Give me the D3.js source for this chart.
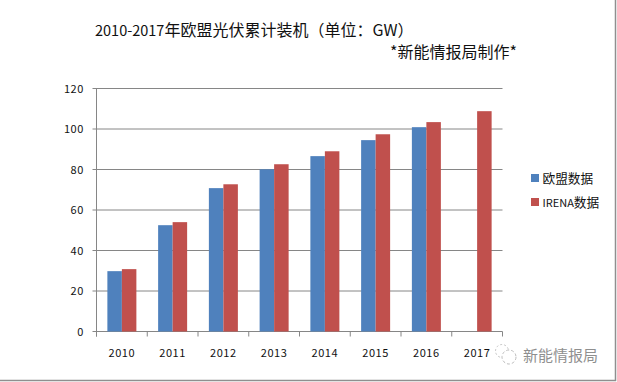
<!DOCTYPE html>
<html><head><meta charset="utf-8">
<script src="https://cdn.jsdelivr.net/npm/d3@7"></script>
<style>html,body{margin:0;padding:0;background:#fff}svg{display:block}text{font-family:"Noto Sans CJK SC","DejaVu Sans",sans-serif}</style>
</head><body><svg id="c" width="617" height="382"></svg>
<script>
const years=["2010","2011","2012","2013","2014","2015","2016","2017"];
const seriesNames=["欧盟数据","IRENA数据"];
const euData=[29.8,52.5,70.8,80.1,86.6,94.5,100.9,null];
const irenaData=[30.8,54,72.7,82.6,89,97.4,103.4,108.8];
const yTicks=[0,20,40,60,80,100,120];
const colors=["#4f81bd","#c0504d"];
const titleParts=["2010-2017","年欧盟光伏累计装机（单位：GW）"];
const subtitleText="*新能情报局制作*";
const watermarkText="新能情报局";

const svg=d3.select("#c");
const x0=96.5,x1=502.5,y0=331.5,y1=88.5;
const x=d3.scaleBand().domain(years).range([x0,x1]);
const xs=d3.scaleBand().domain([0,1]).range([0,x.bandwidth()]).paddingOuter(0.75).paddingInner(0);
const y=d3.scaleLinear().domain([0,120]).range([y0,y1]);
const axisCol="#868686";

// frame
svg.append("path").attr("d","M615.5,0V380.5H0").attr("fill","none").attr("stroke","#8f8f8f").attr("stroke-width",1.5);

// gridlines
svg.append("g").selectAll("line").data(yTicks).join("line")
 .attr("x1",x0-4).attr("x2",x1).attr("y1",d=>y(d)).attr("y2",d=>y(d))
 .attr("stroke",axisCol).attr("stroke-width",1);

// bars
[euData,irenaData].forEach((vals,i)=>{
 svg.append("g").selectAll("rect").data(vals.map((v,j)=>({v,yr:years[j]})).filter(d=>d.v!=null)).join("rect")
  .attr("x",d=>x(d.yr)+xs(i)).attr("width",xs.bandwidth())
  .attr("y",d=>y(d.v)).attr("height",d=>y0-y(d.v)).attr("fill",colors[i]);
});

// axes
svg.append("line").attr("x1",x0).attr("x2",x0).attr("y1",y1).attr("y2",y0+5).attr("stroke",axisCol);
svg.append("g").selectAll("line").data(d3.range(years.length+1)).join("line")
 .attr("x1",i=>x0+i*x.step()).attr("x2",i=>x0+i*x.step()).attr("y1",y0).attr("y2",y0+5).attr("stroke",axisCol);

svg.append("g").selectAll("text").data(yTicks).join("text")
 .attr("x",84).attr("y",d=>y(d)+4).attr("text-anchor","end")
 .attr("font-size",11).attr("letter-spacing",0.6).attr("fill","#111").text(d=>d);
svg.append("g").selectAll("text").data(years).join("text")
 .attr("x",d=>x(d)+x.bandwidth()/2).attr("y",357).attr("text-anchor","middle")
 .attr("font-size",11).attr("letter-spacing",0.6).attr("fill","#111").text(d=>d);

// titles
const t=svg.append("text").attr("x",95).attr("y",36).attr("fill","#111");
t.append("tspan").attr("font-size",14.5).text(titleParts[0]);
t.append("tspan").attr("font-size",16).text(titleParts[1]);
svg.append("text").attr("x",390).attr("y",58).attr("font-size",16).attr("fill","#111").text(subtitleText);

// legend
seriesNames.forEach((n,i)=>{
 const ly=[177.5,201.5][i];
 svg.append("rect").attr("x",531).attr("y",ly-3.5).attr("width",8).attr("height",8).attr("fill",colors[i]);
 const tx=svg.append("text").attr("x",542.5).attr("y",ly+5).attr("fill","#111");
 const m=n.match(/^([A-Z]*)(.*)$/);
 if(m[1]) tx.append("tspan").attr("font-size",11).text(m[1]);
 tx.append("tspan").attr("font-size",12.7).text(m[2]);
});

// watermark
const wm=svg.append("g");
wm.append("circle").attr("cx",502).attr("cy",351).attr("r",6.5).attr("fill","#fff").attr("stroke","#c8c8c8").attr("stroke-dasharray","2 2");
wm.append("circle").attr("cx",509).attr("cy",357).attr("r",7).attr("fill","#fff").attr("stroke","#bdbdbd").attr("stroke-dasharray","3 2");
wm.append("text").attr("x",523).attr("y",360.5).attr("font-size",15).attr("fill","#8f8f8f").text(watermarkText);
</script></body></html>
